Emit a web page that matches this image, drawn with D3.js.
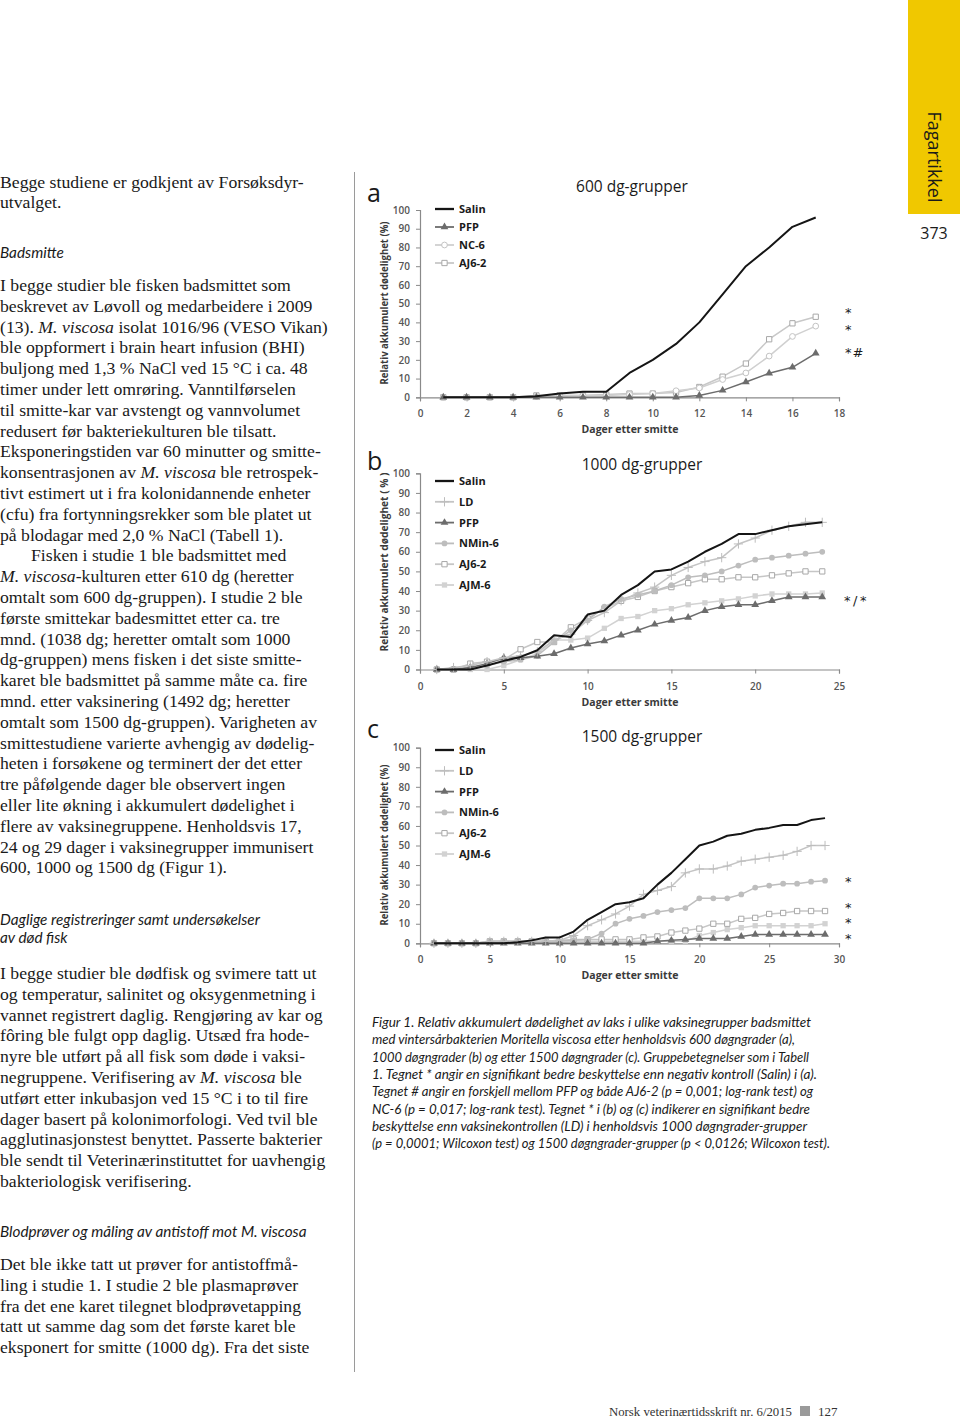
<!DOCTYPE html>
<html><head><meta charset="utf-8">
<script src="https://cdn.jsdelivr.net/npm/d3@7"></script>
<style>body{margin:0;background:#fff}svg{display:block}</style>
</head><body>
<svg id="page" width="960" height="1420"></svg>
<script>
// ---------- DATA ----------
const yTickValues = [0,10,20,30,40,50,60,70,80,90,100];

// Panel a: 600 dg-grupper
const daysA = [1,2,3,4,5,6,7,8,9,10,11,12,13,14,15,16,17];
const xTicksA = [0,2,4,6,8,10,12,14,16,18];
const salinA = [0,0,0,0,0.5,2,3,3,13,20,28.5,40,55,70,80,91,96];
const pfpA   = [0,0,0,0,0,0,0,0,0,0,0,1,3.7,8.2,12.8,16,23.5];
const nc6A   = [0,0,0,0,0.5,1,1,1,1.5,2,3.5,5,9.5,13,22,32.5,38];
const aj62A  = [0,0,0,0,1,1,1,1.5,2,2,2.5,5.5,11,18,31,39.5,43];

// Panel b: 1000 dg-grupper
const daysB = [1,2,3,4,5,6,7,8,9,10,11,12,13,14,15,16,17,18,19,20,21,22,23,24];
const xTicksB = [0,5,10,15,20,25];
const salinB = [0,0,0,2,4.4,6.4,9.8,17.4,16.6,28,30,38,43,50,51,55,60,64,69,69,71,73,74,75];
const ldB    = [0,1,2,4,6,7,9,15,18,25,29,35,39,42,48,52,55,57,64,67,71,73,75,75];
const pfpB   = [0,0,1,3,6,6,6.7,8,11,13,14.5,17.5,20,23,25,26.5,30,32,33,33,35,37,37,37];
const nmin6B = [0,0,1,2,4,5,7,14,20,25,32,36,38,40,43,47,48,50,53,56,57,58,59,60];
const aj62B  = [0,0,3,4,5,10.3,14,14,21.5,26,31,35,37,40,42,44,46,46,47,47,48,49,50,50];
const ajm6B  = [0,0,0,0,2,5,8,15,15,16,21,26,27,30,31,33,34,35,36,37.5,38.5,38.5,38.5,39];

// Panel c: 1500 dg-grupper
const daysC = [1,2,3,4,5,6,7,8,9,10,11,12,13,14,15,16,17,18,19,20,21,22,23,24,25,26,27,28,29];
const xTicksC = [0,5,10,15,20,25,30];
const salinC = [0,0,0,0,0,0,0.5,1.5,3,3,6,12,16,20,21,23,30,36,43,50,52,55,56,58,59,60.5,60.5,63,64];
const ldC    = [0,0,0,0,1,1,1,1,1,1.5,4,9,12,15,19,25,27,29,36,38,38,39.5,42,43,44,45,47,50,50];
const pfpC   = [0,0,0,0,0,0,0,0,0,0,0,0,0,0,0,0,1,1.5,2,2.5,2.5,2.5,3.5,4.5,4.5,4.5,4.5,4.5,4.5];
const nmin6C = [0,0,0,0,1,1,1,1,1,1,1.5,2,5,10,12.5,14,16,17,18,23,23,23,25,28.5,29.5,30.5,30.5,31.5,32];
const aj62C  = [0,0,0,0,1,1,1,1,1,1.5,2,2,2,2,2,3,3.5,5.5,6.5,7.5,10,10,12.5,13,15,15.5,16.5,16.5,16.5];
const ajm6C  = [0,0,0,0,0.5,0.5,0.5,0.5,0.5,0.5,1,1,1,1,1,1,1,1,1,4,5.5,7,8,9,9,9,9,9,10];

// ---------- TEXT ----------
const col1 = [
 "Begge studiene er godkjent av Forsøksdyr-",
 "utvalget."
];
const col2 = [
 "I begge studier ble fisken badsmittet som",
 "beskrevet av Løvoll og medarbeidere i 2009",
 "(13). _M. viscosa_ isolat 1016/96 (VESO Vikan)",
 "ble oppformert i brain heart infusion (BHI)",
 "buljong med 1,3 % NaCl ved 15 °C i ca. 48",
 "timer under lett omrøring. Vanntilførselen",
 "til smitte-kar var avstengt og vannvolumet",
 "redusert før bakteriekulturen ble tilsatt.",
 "Eksponeringstiden var 60 minutter og smitte-",
 "konsentrasjonen av _M. viscosa_ ble retrospek-",
 "tivt estimert ut i fra kolonidannende enheter",
 "(cfu) fra fortynningsrekker som ble platet ut",
 "på blodagar med 2,0 % NaCl (Tabell 1).",
 "\tFisken i studie 1 ble badsmittet med",
 "_M. viscosa_-kulturen etter 610 dg (heretter",
 "omtalt som 600 dg-gruppen). I studie 2 ble",
 "første smittekar badesmittet etter ca. tre",
 "mnd. (1038 dg; heretter omtalt som 1000",
 "dg-gruppen) mens fisken i det siste smitte-",
 "karet ble badsmittet på samme måte ca. fire",
 "mnd. etter vaksinering (1492 dg; heretter",
 "omtalt som 1500 dg-gruppen). Varigheten av",
 "smittestudiene varierte avhengig av dødelig-",
 "heten i forsøkene og terminert der det etter",
 "tre påfølgende dager ble observert ingen",
 "eller lite økning i akkumulert dødelighet i",
 "flere av vaksinegruppene. Henholdsvis 17,",
 "24 og 29 dager i vaksinegrupper immunisert",
 "600, 1000 og 1500 dg (Figur 1)."
];
const col3 = [
 "I begge studier ble dødfisk og svimere tatt ut",
 "og temperatur, salinitet og oksygenmetning i",
 "vannet registrert daglig. Rengjøring av kar og",
 "fôring ble fulgt opp daglig. Utsæd fra hode-",
 "nyre ble utført på all fisk som døde i vaksi-",
 "negruppene. Verifisering av _M. viscosa_ ble",
 "utført etter inkubasjon ved 15 °C i to til fire",
 "dager basert på kolonimorfologi. Ved tvil ble",
 "agglutinasjonstest benyttet. Passerte bakterier",
 "ble sendt til Veterinærinstituttet for uavhengig",
 "bakteriologisk verifisering."
];
const col4 = [
 "Det ble ikke tatt ut prøver for antistoffmå-",
 "ling i studie 1.  I studie 2 ble plasmaprøver",
 "fra det ene karet tilegnet blodprøvetapping",
 "tatt ut samme dag som det første karet ble",
 "eksponert for smitte (1000 dg). Fra det siste"
];
const captionLines = [
 "Figur 1. Relativ akkumulert dødelighet av laks i ulike vaksinegrupper badsmittet",
 "med vintersårbakterien Moritella viscosa etter henholdsvis 600 døgngrader (a),",
 "1000 døgngrader (b) og etter 1500 døgngrader (c). Gruppebetegnelser som i Tabell",
 "1. Tegnet * angir en signifikant bedre beskyttelse enn negativ kontroll (Salin) i (a).",
 "Tegnet # angir en forskjell mellom PFP og både AJ6-2 (p = 0,001; log-rank test) og",
 "NC-6 (p = 0,017; log-rank test). Tegnet * i (b) og (c) indikerer en signifikant bedre",
 "beskyttelse enn vaksinekontrollen (LD) i henholdsvis 1000 døgngrader-grupper",
 "(p = 0,0001; Wilcoxon test) og 1500 døgngrader-grupper (p < 0,0126; Wilcoxon test)."
];
const captionEnds = [811,795,809,817,813,810,807,830];

// ---------- DRAW ----------
const svg = d3.select('#page');
svg.append('rect').attr('width',960).attr('height',1420).attr('fill','#fff');

const SERIF = "'Liberation Serif', 'DejaVu Serif', serif";
const SANS = "Lato, 'Open Sans', sans-serif";
const CH = "'Open Sans', 'Noto Sans', sans-serif";

function paraLine(g, str, x, y) {
  const t = g.append('text').attr('x', x).attr('y', y)
    .style('font-family', SERIF).style('font-size','17.7px').attr('fill','#1a1a1a');
  let s = str;
  if (s.startsWith('\t')) { s = s.slice(1); t.attr('x', x + 31); }
  const parts = s.split('_');
  parts.forEach((p,i) => {
    if (!p) return;
    t.append('tspan').text(p).style('font-style', i % 2 ? 'italic' : 'normal');
  });
}
function block(lines, x, y0, dy) {
  const g = svg.append('g');
  lines.forEach((l,i) => paraLine(g, l, x, y0 + i*dy));
}
block(col1, 0, 187.5, 20.8);
block(col2, 0, 291, 20.8);
block(col3, 0, 979, 20.8);
block(col4, 0, 1270, 20.8);

function heading(str, x, y) {
  svg.append('text').attr('x',x).attr('y',y).text(str)
    .style('font-family', SANS).style('font-style','italic').style('font-size','15.3px').attr('fill','#1a1a1a');
}
heading('Badsmitte', 0, 258);
heading('Daglige registreringer samt undersøkelser', 0, 925);
heading('av død fisk', 0, 943);
heading('Blodprøver og måling av antistoff mot M. viscosa', 0, 1237);

// caption
captionLines.forEach((l,i) => {
  svg.append('text').attr('x',372).attr('y',1027 + i*17.3).text(l)
    .attr('textLength', captionEnds[i]-372).attr('lengthAdjust','spacingAndGlyphs')
    .style('font-family', SANS).style('font-style','italic').style('font-size','13px').attr('fill','#1a1a1a');
});

// separator
svg.append('line').attr('x1',354.5).attr('x2',354.5).attr('y1',172).attr('y2',1372).attr('stroke','#9a9a9a').attr('stroke-width',1);

// yellow tab
svg.append('rect').attr('x',908).attr('y',0).attr('width',52).attr('height',214).attr('fill','#f0c800');
svg.append('text').attr('transform','translate(928,157) rotate(90)').attr('text-anchor','middle')
  .text('Fagartikkel').style('font-family', CH).style('font-size','18px').attr('fill','#1a1a1a');
svg.append('text').attr('x',934).attr('y',239).attr('text-anchor','middle').text('373')
  .style('font-family', CH).style('font-size','16px').attr('fill','#1a1a1a');

// footer
svg.append('text').attr('x',609).attr('y',1416).text('Norsk veterinærtidsskrift nr. 6/2015')
  .attr('textLength',183).attr('lengthAdjust','spacingAndGlyphs')
  .style('font-family', SERIF).style('font-size','13px').attr('fill','#333');
svg.append('rect').attr('x',800).attr('y',1406).attr('width',10).attr('height',10).attr('fill','#9a9a9a');
svg.append('text').attr('x',818).attr('y',1416).text('127').style('font-family', SERIF).style('font-size','13px').attr('fill','#333');

// ---------- PANELS ----------
const styles = {
  'Salin':  {line:'#151515', w:2, sym:null},
  'PFP':    {line:'#6c6c6c', w:1.5, sym:'triangle', fill:'#6c6c6c', stroke:'none'},
  'NC-6':   {line:'#d0d0d0', w:1.5, sym:'circle', fill:'#fff', stroke:'#c4c4c4'},
  'AJ6-2a': {line:'#c8c8c8', w:1.5, sym:'square', fill:'#fff', stroke:'#a8a8a8'},
  'LD':     {line:'#c4c4c4', w:1.5, sym:'plus', fill:'none', stroke:'#bdbdbd'},
  'NMin-6': {line:'#bdbdbd', w:1.5, sym:'circle', fill:'#bdbdbd', stroke:'none'},
  'AJ6-2':  {line:'#c6c6c6', w:1.5, sym:'square', fill:'#fff', stroke:'#a8a8a8'},
  'AJM-6':  {line:'#d2d2d2', w:1.5, sym:'square', fill:'#d2d2d2', stroke:'none'}
};
function symPath(type) {
  const map = {triangle:[d3.symbolTriangle,26], circle:[d3.symbolCircle,26], square:[d3.symbolSquare,28],
    plus:[d3.symbolPlus || d3.symbolCross, 30]};
  const [t,s] = map[type];
  return d3.symbol().type(t).size(s)();
}

function panel(cfg) {
  const x = d3.scaleLinear().domain([0, cfg.xMax]).range([420, 839]);
  const y = d3.scaleLinear().domain([0, 100]).range([cfg.y0, cfg.y100]);
  const g = svg.append('g');

  const ya = g.append('g').attr('transform','translate(420,0)')
    .call(d3.axisLeft(y).tickValues(yTickValues).tickSize(4).tickPadding(6));
  const xa = g.append('g').attr('transform',`translate(0,${cfg.y0})`)
    .call(d3.axisBottom(x).tickValues(cfg.xTicks).tickSize(4).tickPadding(9));
  [ya, xa].forEach(a => {
    a.select('.domain').attr('stroke','#8a8a8a').attr('stroke-width',1.2);
    a.selectAll('.tick line').attr('stroke','#8a8a8a');
    a.selectAll('.tick text').style('font-family', CH).style('font-size','10px')
      .style('font-weight','600').attr('fill','#555');
  });

  // axis labels
  g.append('text').attr('x',630).attr('y',cfg.y0+36).attr('text-anchor','middle').text('Dager etter smitte')
    .style('font-family', CH).style('font-size','10.5px').style('font-weight','700').attr('fill','#3a3a3a');
  g.append('text').attr('transform',`translate(388,${cfg.ylabY}) rotate(-90)`).attr('text-anchor','middle')
    .attr('textLength', cfg.ylabLen).attr('lengthAdjust','spacingAndGlyphs')
    .text(cfg.ylab).style('font-family', CH).style('font-size','10.5px').style('font-weight','700').attr('fill','#3a3a3a');

  // title + panel letter
  g.append('text').attr('x',cfg.titleX).attr('y',cfg.titleY).attr('text-anchor','middle').text(cfg.title)
    .style('font-family', CH).style('font-size','15.5px').attr('fill','#1a1a1a');
  g.append('text').attr('x',367).attr('y',cfg.letterY).text(cfg.letter)
    .style('font-family', CH).style('font-size','25px').attr('fill','#1a1a1a');

  // series (draw in reverse so Salin on top)
  const line = d3.line().x(d => x(d[0])).y(d => y(d[1]));
  cfg.series.slice().reverse().forEach(s => {
    const st = styles[s.style];
    const pts = cfg.days.map((d,i) => [d, s.values[i]]);
    g.append('path').attr('d', line(pts)).attr('fill','none').attr('stroke', st.line)
      .attr('stroke-width', st.w).attr('stroke-linejoin','round');
    if (st.sym) {
      g.selectAll(null).data(pts).enter().append('path')
        .attr('transform', d => `translate(${x(d[0])},${y(d[1])})`)
        .attr('d', symPath(st.sym)).attr('fill', st.fill).attr('stroke', st.stroke).attr('stroke-width',1);
    }
  });

  // legend
  cfg.series.forEach((s,i) => {
    const st = styles[s.style];
    const ly = cfg.legY + i*cfg.legDy;
    g.append('line').attr('x1',435).attr('x2',454).attr('y1',ly).attr('y2',ly)
      .attr('stroke', st.line).attr('stroke-width', st.w + 0.3);
    if (st.sym) g.append('path').attr('transform',`translate(444.5,${ly})`).attr('d', symPath(st.sym))
      .attr('fill', st.fill).attr('stroke', st.stroke).attr('stroke-width',1);
    g.append('text').attr('x',459).attr('y',ly+4).text(s.name)
      .style('font-family', CH).style('font-size','11px').style('font-weight','700').attr('fill','#1a1a1a');
  });

  // significance marks
  cfg.marks.forEach(m => {
    g.append('text').attr('x', m[0]).attr('y', m[1]).text(m[2])
      .style('font-family', "'DejaVu Sans', sans-serif").style('font-size','13px')
      .style('letter-spacing', m[2].length > 2 ? '2.5px' : '1px').attr('fill','#1a1a1a');
  });
}

panel({
  xMax:18, xTicks:xTicksA, y0:397.3, y100:210, days:daysA,
  title:'600 dg-grupper', titleX:632, titleY:192, letter:'a', letterY:202,
  ylab:'Relativ akkumulert dødelighet (%)', ylabY:303, ylabLen:163,
  legY:209, legDy:18,
  series:[{name:'Salin',style:'Salin',values:salinA},{name:'PFP',style:'PFP',values:pfpA},
          {name:'NC-6',style:'NC-6',values:nc6A},{name:'AJ6-2',style:'AJ6-2a',values:aj62A}],
  marks:[[845,317,'*'],[845,333.5,'*'],[845,357,'*#']]
});
panel({
  xMax:25, xTicks:xTicksB, y0:669.5, y100:473.3, days:daysB,
  title:'1000 dg-grupper', titleX:642, titleY:470, letter:'b', letterY:470,
  ylab:'Relativ akkumulert dødelighet ( % )', ylabY:562, ylabLen:179,
  legY:481, legDy:20.8,
  series:[{name:'Salin',style:'Salin',values:salinB},{name:'LD',style:'LD',values:ldB},
          {name:'PFP',style:'PFP',values:pfpB},{name:'NMin-6',style:'NMin-6',values:nmin6B},
          {name:'AJ6-2',style:'AJ6-2',values:aj62B},{name:'AJM-6',style:'AJM-6',values:ajm6B}],
  marks:[[844,605,'*/*']]
});
panel({
  xMax:30, xTicks:xTicksC, y0:943.3, y100:747.7, days:daysC,
  title:'1500 dg-grupper', titleX:642, titleY:742, letter:'c', letterY:738,
  ylab:'Relativ akkumulert dødelighet (%)', ylabY:845, ylabLen:161,
  legY:750, legDy:20.8,
  series:[{name:'Salin',style:'Salin',values:salinC},{name:'LD',style:'LD',values:ldC},
          {name:'PFP',style:'PFP',values:pfpC},{name:'NMin-6',style:'NMin-6',values:nmin6C},
          {name:'AJ6-2',style:'AJ6-2',values:aj62C},{name:'AJM-6',style:'AJM-6',values:ajm6C}],
  marks:[[845,886,'*'],[845,911.5,'*'],[845,927.2,'*'],[845,942.9,'*']]
});
</script>
</body></html>
